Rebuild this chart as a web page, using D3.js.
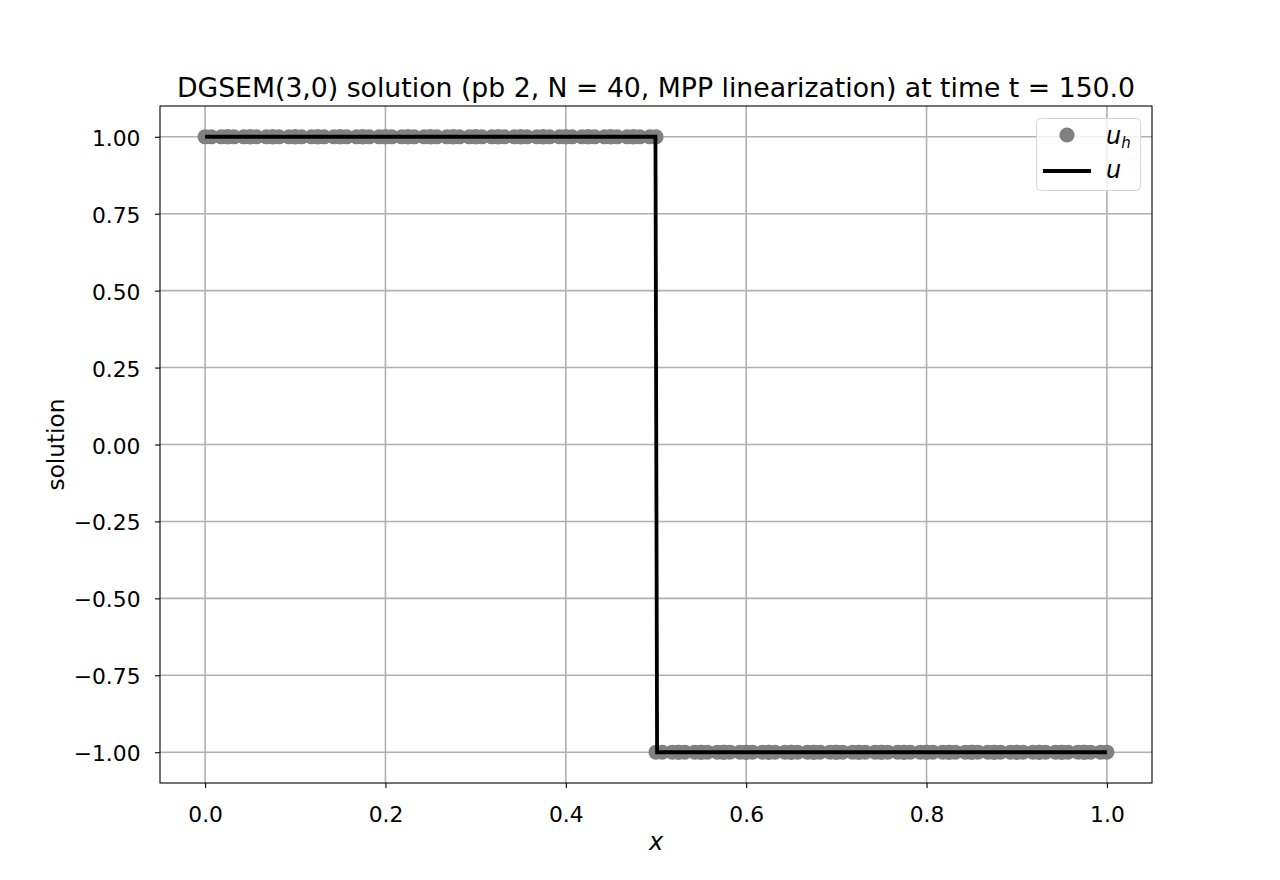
<!DOCTYPE html>
<html><head><meta charset="utf-8">
<script src="https://cdn.jsdelivr.net/npm/d3@7"></script>
<style>body{margin:0;background:#fff}svg{display:block}text{font-family:"DejaVu Sans",sans-serif;fill:#000}</style>
</head><body><svg id="c" width="1280" height="880"></svg>
<script>
const titleText = "DGSEM(3,0) solution (pb 2, N = 40, MPP linearization) at time t = 150.0";
const xTicks = [0.0, 0.2, 0.4, 0.6, 0.8, 1.0];
const xTickLabels = ["0.0", "0.2", "0.4", "0.6", "0.8", "1.0"];
const yTicks = [-1.0, -0.75, -0.5, -0.25, 0.0, 0.25, 0.5, 0.75, 1.0];
const yTickLabels = ["\u22121.00", "\u22120.75", "\u22120.50", "\u22120.25", "0.00", "0.25", "0.50", "0.75", "1.00"];
// DG nodes (4 per cell, 40 cells)
const xNodes = [
0,0.00691,0.01809,0.025, 0.025,0.03191,0.04309,0.05, 0.05,0.05691,0.06809,0.075, 0.075,0.08191,0.09309,0.1,
0.1,0.10691,0.11809,0.125, 0.125,0.13191,0.14309,0.15, 0.15,0.15691,0.16809,0.175, 0.175,0.18191,0.19309,0.2,
0.2,0.20691,0.21809,0.225, 0.225,0.23191,0.24309,0.25, 0.25,0.25691,0.26809,0.275, 0.275,0.28191,0.29309,0.3,
0.3,0.30691,0.31809,0.325, 0.325,0.33191,0.34309,0.35, 0.35,0.35691,0.36809,0.375, 0.375,0.38191,0.39309,0.4,
0.4,0.40691,0.41809,0.425, 0.425,0.43191,0.44309,0.45, 0.45,0.45691,0.46809,0.475, 0.475,0.48191,0.49309,0.5,
0.5,0.50691,0.51809,0.525, 0.525,0.53191,0.54309,0.55, 0.55,0.55691,0.56809,0.575, 0.575,0.58191,0.59309,0.6,
0.6,0.60691,0.61809,0.625, 0.625,0.63191,0.64309,0.65, 0.65,0.65691,0.66809,0.675, 0.675,0.68191,0.69309,0.7,
0.7,0.70691,0.71809,0.725, 0.725,0.73191,0.74309,0.75, 0.75,0.75691,0.76809,0.775, 0.775,0.78191,0.79309,0.8,
0.8,0.80691,0.81809,0.825, 0.825,0.83191,0.84309,0.85, 0.85,0.85691,0.86809,0.875, 0.875,0.88191,0.89309,0.9,
0.9,0.90691,0.91809,0.925, 0.925,0.93191,0.94309,0.95, 0.95,0.95691,0.96809,0.975, 0.975,0.98191,0.99309,1.0];
const uhValues = [
1,1,1,1, 1,1,1,1, 1,1,1,1, 1,1,1,1, 1,1,1,1, 1,1,1,1, 1,1,1,1, 1,1,1,1,
1,1,1,1, 1,1,1,1, 1,1,1,1, 1,1,1,1, 1,1,1,1, 1,1,1,1, 1,1,1,1, 1,1,1,1,
1,1,1,1, 1,1,1,1, 1,1,1,1, 1,1,1,1,
-1,-1,-1,-1, -1,-1,-1,-1, -1,-1,-1,-1, -1,-1,-1,-1, -1,-1,-1,-1, -1,-1,-1,-1, -1,-1,-1,-1, -1,-1,-1,-1,
-1,-1,-1,-1, -1,-1,-1,-1, -1,-1,-1,-1, -1,-1,-1,-1, -1,-1,-1,-1, -1,-1,-1,-1, -1,-1,-1,-1, -1,-1,-1,-1,
-1,-1,-1,-1, -1,-1,-1,-1, -1,-1,-1,-1, -1,-1,-1,-1];
// exact solution
const exactX = [0, 0.4994, 0.5012, 1.0];
const exactU = [1, 1, -1, -1];

const svg = d3.select("#c");
const L = 160, R = 1152, T = 106, B = 783;
const x = d3.scaleLinear().domain([-0.05, 1.05]).range([L, R]);
const y = d3.scaleLinear().domain([-1.1, 1.1]).range([B, T]);
const FS = 21.8;

// grid
const g = svg.append("g");
g.selectAll("line.gx").data(xTicks).enter().append("line")
  .attr("x1", d => x(d)).attr("x2", d => x(d)).attr("y1", T).attr("y2", B)
  .attr("stroke", "#b0b0b0").attr("stroke-width", 1.6);
g.selectAll("line.gy").data(yTicks).enter().append("line")
  .attr("y1", d => y(d)).attr("y2", d => y(d)).attr("x1", L).attr("x2", R)
  .attr("stroke", "#b0b0b0").attr("stroke-width", 1.6);

// data
svg.append("g").selectAll("circle").data(xNodes).enter().append("circle")
  .attr("cx", d => x(d)).attr("cy", (d, i) => y(uhValues[i])).attr("r", 7.6)
  .attr("fill", "#808080");
svg.append("path").datum(exactX.map((d, i) => [d, exactU[i]]))
  .attr("d", d3.line().x(d => x(d[0])).y(d => y(d[1])))
  .attr("fill", "none").attr("stroke", "#000").attr("stroke-width", 3.8);

// axes frame
svg.append("rect").attr("x", L).attr("y", T).attr("width", R - L).attr("height", B - T)
  .attr("fill", "none").attr("stroke", "#000").attr("stroke-width", 1.1);

// axes
const xAxis = d3.axisBottom(x).tickValues(xTicks).tickFormat((d, i) => xTickLabels[i]).tickSize(5);
const gx = svg.append("g").attr("transform", `translate(0,${B})`).call(xAxis);
gx.select(".domain").remove();
gx.selectAll("line").attr("stroke", "#000").attr("stroke-width", 1.1);
gx.selectAll("text").style("font-size", FS + "px").attr("fill", "#000").attr("dy", null).attr("y", 39);

const yAxis = d3.axisLeft(y).tickValues(yTicks).tickFormat((d, i) => yTickLabels[i]).tickSize(5);
const gy = svg.append("g").attr("transform", `translate(${L},0)`).call(yAxis);
gy.select(".domain").remove();
gy.selectAll("line").attr("stroke", "#000").attr("stroke-width", 1.1);
gy.selectAll("text").style("font-size", FS + "px").attr("fill", "#000").attr("x", -19.5).attr("dy", 8.5);

// title and labels
svg.append("text").attr("x", (L + R) / 2).attr("y", 97).attr("text-anchor", "middle")
  .style("font-size", "26.7px").text(titleText);
svg.append("text").attr("x", (L + R) / 2).attr("y", 850).attr("text-anchor", "middle")
  .style("font-size", "24px").style("font-style", "italic").text("x");
svg.append("text").attr("transform", `translate(64,${(T + B) / 2}) rotate(-90)`).attr("text-anchor", "middle")
  .style("font-size", "23.2px").text("solution");

// legend
const lg = svg.append("g");
lg.append("rect").attr("x", 1036.5).attr("y", 118.5).attr("width", 104).attr("height", 72).attr("rx", 4)
  .attr("fill", "#fff").attr("fill-opacity", 0.8).attr("stroke", "#d6d6d6").attr("stroke-width", 1);
lg.append("circle").attr("cx", 1067).attr("cy", 135).attr("r", 7.6).attr("fill", "#808080");
const t1 = lg.append("text").attr("x", 1106).attr("y", 144).style("font-size", "24px").style("font-style", "italic");
t1.append("tspan").text("u");
t1.append("tspan").attr("dy", 3.5).style("font-size", "15px").text("h");
lg.append("line").attr("x1", 1043).attr("x2", 1091).attr("y1", 171).attr("y2", 171)
  .attr("stroke", "#000").attr("stroke-width", 3.8);
lg.append("text").attr("x", 1106).attr("y", 178).style("font-size", "24px").style("font-style", "italic").text("u");
</script></body></html>
